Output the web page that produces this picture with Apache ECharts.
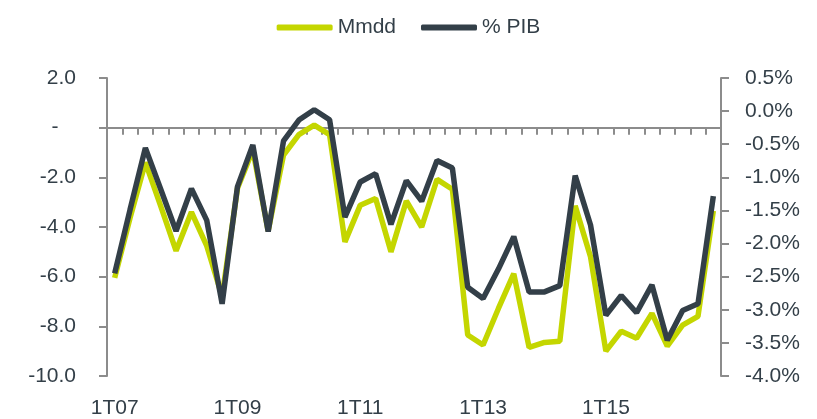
<!DOCTYPE html>
<html>
<head>
<meta charset="utf-8">
<script src="https://cdn.jsdelivr.net/npm/echarts@6/dist/echarts.min.js"></script>
<style>
  html, body { margin: 0; padding: 0; background: #fff; }
  #chart { width: 817px; height: 419px; }
</style>
</head>
<body>
<div id="chart"></div>
<script>
// quarters 1T07 .. 4T16
const years = ['07', '08', '09', '10', '11', '12', '13', '14', '15', '16'];
const quarters = [];
years.forEach((y) => {
  for (let q = 1; q <= 4; q++) quarters.push(q + 'T' + y);
});

// Mmdd (left axis)
const mmdd = [
  -6.05, -3.64, -1.4, -3.16, -4.96, -3.4, -4.76, -6.8,
  -2.44, -0.9, -4.16, -1.1, -0.28, 0.1, -0.28, -4.6,
  -3.12, -2.85, -5.0, -2.95, -4.0, -2.08, -2.48, -8.35,
  -8.75, -7.28, -5.88, -8.85, -8.65, -8.6, -3.15, -5.2,
  -9.0, -8.2, -8.48, -7.48, -8.8, -7.95, -7.6, -3.35
];

// % PIB (right axis)
const pctPib = [
  -2.45, -1.49, -0.555, -1.18, -1.81, -1.17, -1.65, -2.91,
  -1.14, -0.51, -1.82, -0.45, -0.135, 0.02, -0.13, -1.6,
  -1.07, -0.945, -1.71, -1.05, -1.36, -0.745, -0.86, -2.66,
  -2.83, -2.385, -1.895, -2.73, -2.73, -2.635, -0.975, -1.72,
  -3.085, -2.785, -3.045, -2.625, -3.46, -3.01, -2.91, -1.285
];

const green = '#c4d600';
const dark = '#333f48';
const axisGray = '#8c8c8c';
const textColor = '#333f48';

const chart = echarts.init(document.getElementById('chart'));

chart.setOption({
  animation: false,
  textStyle: { fontFamily: 'Liberation Sans, Arial, sans-serif' },
  legend: {
    top: 12,
    left: 'center',
    icon: 'roundRect',
    itemWidth: 56,
    itemHeight: 6,
    itemGap: 25,
    textStyle: { fontSize: 21, color: textColor },
    data: ['Mmdd', '% PIB']
  },
  grid: {
    left: 107,
    right: 96,
    top: 78,
    bottom: 41
  },
  xAxis: [
    {
      type: 'category',
      data: quarters,
      boundaryGap: true,
      axisLine: {
        onZero: true,
        onZeroAxisIndex: 0,
        lineStyle: { color: axisGray, width: 2 }
      },
      axisTick: {
        show: true,
        inside: false,
        interval: 0,
        length: 7,
        lineStyle: { color: axisGray, width: 2 }
      },
      axisLabel: { show: false },
      splitLine: { show: false }
    },
    {
      type: 'category',
      data: quarters,
      position: 'bottom',
      boundaryGap: true,
      axisLine: { show: false, onZero: false },
      axisTick: { show: false },
      axisLabel: {
        interval: 7,
        margin: 22,
        fontSize: 21,
        color: textColor
      },
      splitLine: { show: false }
    }
  ],
  yAxis: [
    {
      type: 'value',
      position: 'left',
      min: -10,
      max: 2,
      interval: 2,
      axisLine: { show: true, lineStyle: { color: axisGray, width: 2 } },
      axisTick: { show: true, length: 8, lineStyle: { color: axisGray, width: 2 } },
      splitLine: { show: false },
      axisLabel: {
        margin: 31,
        fontSize: 21,
        color: textColor,
        formatter: (v) => (v === 0 ? '-   ' : v.toFixed(1))
      }
    },
    {
      type: 'value',
      position: 'right',
      min: -4,
      max: 0.5,
      interval: 0.5,
      axisLine: { show: true, lineStyle: { color: axisGray, width: 2 } },
      axisTick: { show: true, length: 8, lineStyle: { color: axisGray, width: 2 } },
      splitLine: { show: false },
      axisLabel: {
        margin: 24,
        fontSize: 21,
        color: textColor,
        formatter: (v) => v.toFixed(1) + '%'
      }
    }
  ],
  series: [
    {
      name: 'Mmdd',
      type: 'line',
      xAxisIndex: 0,
      yAxisIndex: 0,
      data: mmdd,
      symbol: 'none',
      itemStyle: { color: green },
      lineStyle: { color: green, width: 5.5 }
    },
    {
      name: '% PIB',
      type: 'line',
      xAxisIndex: 0,
      yAxisIndex: 1,
      data: pctPib,
      symbol: 'none',
      itemStyle: { color: dark },
      lineStyle: { color: dark, width: 5.5 }
    }
  ]
});

window.addEventListener('resize', () => {
  chart.resize();
});
</script>
</body>
</html>
